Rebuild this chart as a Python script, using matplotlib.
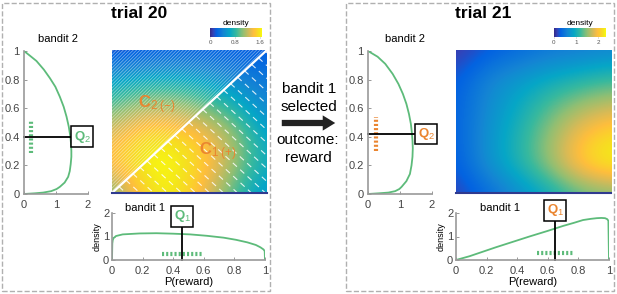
import numpy as np
import matplotlib
matplotlib.use('Agg')
import matplotlib.pyplot as plt
from matplotlib.colors import LinearSegmentedColormap
from matplotlib.patches import Polygon, Rectangle, FancyArrowPatch

plt.rcParams['font.family'] = ['Liberation Sans', 'DejaVu Sans']
plt.rcParams['mathtext.fontset'] = 'custom'
plt.rcParams['mathtext.rm'] = 'Liberation Sans'
plt.rcParams['mathtext.it'] = 'Liberation Sans:italic'
plt.rcParams['mathtext.bf'] = 'Liberation Sans:bold'
plt.rcParams['hatch.linewidth'] = 0.5

# ---- data ----
# trial 20, bandit 1 posterior (P(reward), density)
p1_t20 = [0, 0.002, 0.005, 0.01, 0.026, 0.07, 0.18, 0.29, 0.40, 0.51, 0.62,
          0.73, 0.81, 0.885, 0.94, 0.97, 0.99, 0.998, 1.0]
d1_t20 = [0, 0.70, 0.85, 0.93, 1.02, 1.09, 1.13, 1.14, 1.12, 1.09, 1.03,
          0.95, 0.86, 0.75, 0.64, 0.54, 0.45, 0.38, 0]
# trial 20, bandit 2 posterior
p2_t20 = [0, 0.005, 0.01, 0.02, 0.035, 0.05, 0.08, 0.12, 0.16, 0.21, 0.26,
          0.30, 0.35, 0.40, 0.47, 0.54, 0.61, 0.68, 0.75, 0.81, 0.87, 0.93,
          0.97, 1.0]
d2_t20 = [0, 0.35, 0.60, 0.85, 1.02, 1.12, 1.27, 1.38, 1.43, 1.46, 1.48,
          1.48, 1.47, 1.45, 1.40, 1.33, 1.24, 1.12, 0.98, 0.81, 0.62, 0.39,
          0.17, 0]
# trial 21, bandit 1 posterior (after reward)
p1_t21 = [0, 0.088, 0.26, 0.48, 0.60, 0.70, 0.77, 0.83, 0.88, 0.92, 0.95,
          0.974, 0.988, 0.996, 1.0]
d1_t21 = [0, 0.16, 0.54, 1.00, 1.24, 1.45, 1.58, 1.70, 1.75, 1.78, 1.79,
          1.78, 1.74, 1.67, 0]
# trial 21, bandit 2 posterior
p2_t21 = [0, 0.005, 0.01, 0.02, 0.035, 0.05, 0.09, 0.14, 0.20, 0.26, 0.32,
          0.375, 0.43, 0.49, 0.56, 0.63, 0.70, 0.77, 0.84, 0.91, 0.96, 1.0]
d2_t21 = [0, 0.35, 0.64, 0.85, 0.98, 1.05, 1.20, 1.31, 1.36, 1.39, 1.40,
          1.39, 1.37, 1.34, 1.28, 1.20, 1.09, 0.95, 0.77, 0.54, 0.30, 0]

# joint density, read on a grid: rows P2 = 0, 0.2, ..., 1; cols P1 = 0, 0.2, ..., 1
grid = [0, 0.2, 0.4, 0.6, 0.8, 1.0]
joint_t20 = [
    [0.92, 1.55, 1.65, 1.35, 0.85, 0.50],
    [1.43, 1.68, 1.68, 1.51, 1.09, 0.67],
    [1.34, 1.60, 1.60, 1.43, 1.09, 0.59],
    [0.92, 1.18, 1.18, 1.01, 0.76, 0.42],
    [0.59, 0.67, 0.67, 0.59, 0.42, 0.34],
    [0.08, 0.13, 0.17, 0.17, 0.17, 0.17],
]
joint_t21 = [
    [0.12, 0.35, 0.66, 0.94, 1.29, 1.41],
    [0.24, 0.71, 1.06, 1.53, 2.12, 2.35],
    [0.28, 0.71, 1.06, 1.53, 2.00, 2.23],
    [0.28, 0.66, 0.94, 1.29, 1.60, 1.76],
    [0.24, 0.59, 0.78, 0.94, 1.06, 1.18],
    [0.07, 0.24, 0.35, 0.47, 0.52, 0.59],
]

# Q values and sample bars
q1_t20, q2_t20 = 0.46, 0.40
q1_t21, q2_t21 = 0.65, 0.42
bar1_t20 = (0.33, 0.59, 0.27)   # p from, p to, density level
bar2_t20 = (0.22, 0.29, 0.51)   # density level, p from, p to
bar1_t21 = (0.53, 0.77, 0.28)
bar2_t21 = (0.25, 0.30, 0.54)

cbar_ticks_t20 = [0, 0.8, 1.6]
cbar_ticks_t21 = [0, 1, 2]
vmax_t20, vmax_t21 = 1.68, 2.35

GREEN = '#5DBB7A'
ORANGE = '#EA8530'
W, H = 617, 294

# parula-like colormap
parula = LinearSegmentedColormap.from_list('parula', [
    (0.0, (0.208, 0.166, 0.529)),
    (0.063, (0.196, 0.264, 0.728)),
    (0.127, (0.012, 0.388, 0.882)),
    (0.254, (0.079, 0.520, 0.831)),
    (0.381, (0.023, 0.653, 0.777)),
    (0.508, (0.218, 0.725, 0.619)),
    (0.635, (0.571, 0.749, 0.449)),
    (0.762, (0.851, 0.730, 0.336)),
    (0.841, (0.994, 0.745, 0.240)),
    (0.889, (0.988, 0.807, 0.179)),
    (0.952, (0.959, 0.895, 0.113)),
    (1.0, (0.976, 0.983, 0.054)),
])


def rect(x0, y0, x1, y1):
    return [x0 / W, 1 - y1 / H, (x1 - x0) / W, (y1 - y0) / H]


def style_axis(ax):
    ax.spines[['top', 'right']].set_visible(False)
    for s in ('left', 'bottom'):
        ax.spines[s].set_color('#9a9a9a')
        ax.spines[s].set_linewidth(1.2)
    ax.tick_params(direction='in', length=2, width=0.6, color='#888',
                   labelcolor='#444', labelsize=8)


def draw_panel(fig, dx, title, p1, d1, p2, d2, joint, q1, q2, bar1, bar2,
               vmax, cticks, qcol, barcol2, hatched, b1x, b2x, q1box):
    fig.add_artist(Rectangle(((dx + 2) / W, 3 / H), 268 / W, 288 / H,
                             transform=fig.transFigure, fill=False,
                             ec='#b0b0b0', ls='--', lw=1))
    fig.text((dx + 139) / W, 1 - 14 / H, title, ha='center', va='center',
             fontsize=12.5, fontweight='bold')

    # bandit 2 marginal (density on x, P on y)
    ax2 = fig.add_axes(rect(dx + 24, 51, dx + 88, 194))
    ax2.plot(d2, p2, color=GREEN, lw=1.3)
    ax2.set_xlim(0, 2)
    ax2.set_ylim(0, 1)
    ax2.set_xticks([0, 1, 2])
    ax2.set_yticks([0, 0.2, 0.4, 0.6, 0.8, 1])
    ax2.set_yticklabels(['0', '0.2', '0.4', '0.6', '0.8', '1'])
    style_axis(ax2)
    ax2.tick_params(axis='x', pad=4)
    ax2.tick_params(axis='y', pad=3)
    ax2.text(b2x, 1.05, 'bandit 2', transform=ax2.transAxes, ha='center',
             va='bottom', fontsize=8)
    ax2.plot([bar2[0], bar2[0]], [bar2[1], bar2[2]], color=barcol2, lw=3,
             dashes=(0.5, 0.5), solid_capstyle='butt')
    ax2.plot([0, 1.53], [q2, q2], color='black', lw=1.3, clip_on=False)
    ax2.text(1.82, q2, r'Q$_2$', ha='center', va='center', fontsize=9.5,
             color=qcol, fontweight='bold', clip_on=False,
             bbox=dict(boxstyle='square,pad=0.18', fc='white', ec='black',
                       lw=1.1))

    # joint density
    axh = fig.add_axes(rect(dx + 112, 50, dx + 267, 193))
    step = grid[1] - grid[0]
    axh.imshow(joint, origin='lower', cmap=parula, vmin=0, vmax=vmax,
               interpolation='bicubic', aspect='auto',
               extent=(grid[0] - step / 2, grid[-1] + step / 2,
                       grid[0] - step / 2, grid[-1] + step / 2))
    axh.set_xlim(0, 1)
    axh.set_ylim(0, 1)
    axh.set_xticks([])
    axh.set_yticks([])
    axh.spines[['top', 'left', 'right']].set_visible(False)
    axh.spines['bottom'].set_color('#2f3a8f')
    axh.spines['bottom'].set_linewidth(1.5)
    if hatched:
        axh.add_patch(Polygon([(0, 0), (0, 1), (1, 1)], closed=True,
                              fill=False, hatch='//////////',
                              edgecolor=(1, 1, 1, 0.5), lw=0))
        for c in np.arange(0.09, 2.0, 0.09):
            end = (c, 0) if c <= 1 else (1, c - 1)
            axh.plot([c / 2, end[0]], [c / 2, end[1]], color='white',
                     lw=0.8, alpha=0.85, dashes=(5, 4))
        axh.plot([0, 1], [0, 1], color='white', lw=1.6)
        axh.text(0.29, 0.62, r'C$_{2\ (-)}$', color=ORANGE, fontsize=12,
                 fontweight='bold', ha='center', va='center')
        axh.text(0.68, 0.29, r'C$_{1\ (+)}$', color=ORANGE, fontsize=12,
                 fontweight='bold', ha='center', va='center')

    # colorbar
    cax = fig.add_axes(rect(dx + 210, 28, dx + 262, 37))
    sm = plt.cm.ScalarMappable(cmap=parula, norm=plt.Normalize(0, vmax))
    cb = fig.colorbar(sm, cax=cax, orientation='horizontal')
    cb.set_ticks(cticks)
    cb.set_ticklabels([f'{t:g}' for t in cticks])
    cb.outline.set_visible(False)
    cax.tick_params(labelsize=4.5, length=1, width=0.4, pad=1,
                    labelcolor='#555', color='#888')
    cax.set_title('density', fontsize=6, pad=2)

    # bandit 1 marginal
    ax1 = fig.add_axes(rect(dx + 112, 213, dx + 265, 260))
    ax1.plot(p1, d1, color=GREEN, lw=1.3)
    ax1.set_xlim(0, 1)
    ax1.set_ylim(0, 2)
    ax1.set_xticks([0, 0.2, 0.4, 0.6, 0.8, 1])
    ax1.set_xticklabels(['0', '0.2', '0.4', '0.6', '0.8', '1'])
    ax1.set_yticks([0, 1, 2])
    style_axis(ax1)
    ax1.tick_params(axis='x', pad=4)
    ax1.tick_params(axis='y', pad=2)
    ax1.set_xlabel('P(reward)', fontsize=8, labelpad=1)
    ax1.text(-0.095, 0.5, 'density', rotation=90, transform=ax1.transAxes,
             ha='center', va='center', fontsize=6.5)
    ax1.text(b1x, 1.1, 'bandit 1', transform=ax1.transAxes, ha='left',
             va='center', fontsize=8)
    ax1.plot([bar1[0], bar1[1]], [bar1[2], bar1[2]], color=GREEN, lw=3,
             dashes=(0.5, 0.5), solid_capstyle='butt')
    ax1.plot([q1, q1], [0, q1box - 0.36], color='black', lw=1.3,
             clip_on=False)
    ax1.text(q1, q1box, r'Q$_1$', ha='center', va='center', fontsize=9.5,
             color=qcol, fontweight='bold', clip_on=False,
             bbox=dict(boxstyle='square,pad=0.18', fc='white', ec='black',
                       lw=1.1))


fig = plt.figure(figsize=(W / 100, H / 100), dpi=100)

draw_panel(fig, 0, 'trial 20', p1_t20, d1_t20, p2_t20, d2_t20, joint_t20,
           q1_t20, q2_t20, bar1_t20, bar2_t20, vmax_t20, cbar_ticks_t20,
           GREEN, GREEN, True, 0.085, 0.53, 1.86)
draw_panel(fig, 344, 'trial 21', p1_t21, d1_t21, p2_t21, d2_t21, joint_t21,
           q1_t21, q2_t21, bar1_t21, bar2_t21, vmax_t21, cbar_ticks_t21,
           ORANGE, ORANGE, False, 0.157, 0.58, 2.12)

# middle transition annotation
fig.text(309 / W, 1 - 98 / H, 'bandit 1\nselected', ha='center',
         va='center', fontsize=11, linespacing=1.3)
fig.text(308 / W, 1 - 149 / H, 'outcome:\nreward', ha='center',
         va='center', fontsize=11, linespacing=1.3)
fig.add_artist(FancyArrowPatch((279 / W, 1 - 123 / H), (338 / W, 1 - 123 / H),
                               transform=fig.transFigure,
                               arrowstyle='simple,head_width=1.1,'
                                          'head_length=0.9,tail_width=0.45',
                               mutation_scale=10, color='#222222', lw=0))

fig.savefig('out.png', dpi=100)
